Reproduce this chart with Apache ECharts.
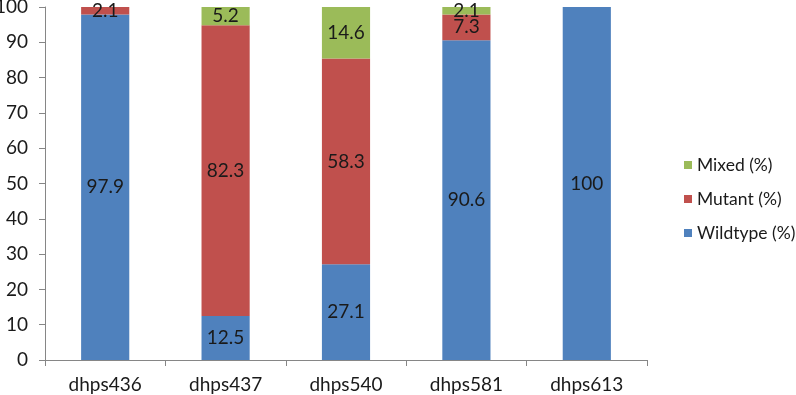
<!DOCTYPE html>
<html>
<head>
<meta charset="utf-8">
<script src="https://cdn.jsdelivr.net/npm/echarts@6/dist/echarts.min.js"></script>
<style>html,body{margin:0;padding:0;background:#fff}#c{width:796px;height:395px}</style>
</head>
<body>
<div id="c"></div>
<script>
const categories = ['dhps436', 'dhps437', 'dhps540', 'dhps581', 'dhps613'];
const wildtype = [97.9, 12.5, 27.1, 90.6, 100];
const mutant = [2.1, 82.3, 58.3, 7.3, 0];
const mixed = [0, 5.2, 14.6, 2.1, 0];
const yTicks = [0, 10, 20, 30, 40, 50, 60, 70, 80, 90, 100];

const FONT = 'Lato';
const FS = 19;
const chart = echarts.init(document.getElementById('c'), null, {renderer: 'canvas'});
const lbl = {
  show: true, position: 'inside', color: '#1a1a1a', fontFamily: FONT, fontSize: FS,
  formatter: p => (p.value === 0 ? '' : String(p.value))
};
function mk(name, data, color) {
  return {
    name, type: 'bar', stack: 'all', data, barWidth: '40%',
    itemStyle: {color}, label: lbl, emphasis: {disabled: true}
  };
}
chart.setOption({
  animation: false,
  grid: {left: 45, right: 149, top: 7, bottom: 35, containLabel: false, outerBoundsMode: 'none'},
  legend: {
    orient: 'vertical', left: 679, top: 151,
    data: ['Mixed (%)', 'Mutant (%)', 'Wildtype (%)'],
    itemWidth: 8, itemHeight: 8, itemGap: 16,
    icon: 'rect',
    textStyle: {fontFamily: FONT, fontSize: 17.5, color: '#1a1a1a', padding: [0, 0, 0, 0]}
  },
  xAxis: {
    type: 'category', data: categories,
    axisLine: {lineStyle: {color: '#868686'}},
    axisTick: {show: true, length: 6, lineStyle: {color: '#868686'}},
    axisLabel: {fontFamily: FONT, fontSize: FS, color: '#1a1a1a', margin: 15}
  },
  yAxis: {
    type: 'value', min: yTicks[0], max: yTicks[yTicks.length - 1], interval: 10,
    axisLine: {show: true, lineStyle: {color: '#868686'}},
    axisTick: {show: true, length: 6, lineStyle: {color: '#868686'}},
    splitLine: {show: false},
    axisLabel: {fontFamily: FONT, fontSize: FS, color: '#1a1a1a', margin: 17}
  },
  series: [
    mk('Wildtype (%)', wildtype, '#4F81BD'),
    mk('Mutant (%)', mutant, '#C0504D'),
    mk('Mixed (%)', mixed, '#9BBB59')
  ]
});
</script>
</body>
</html>
